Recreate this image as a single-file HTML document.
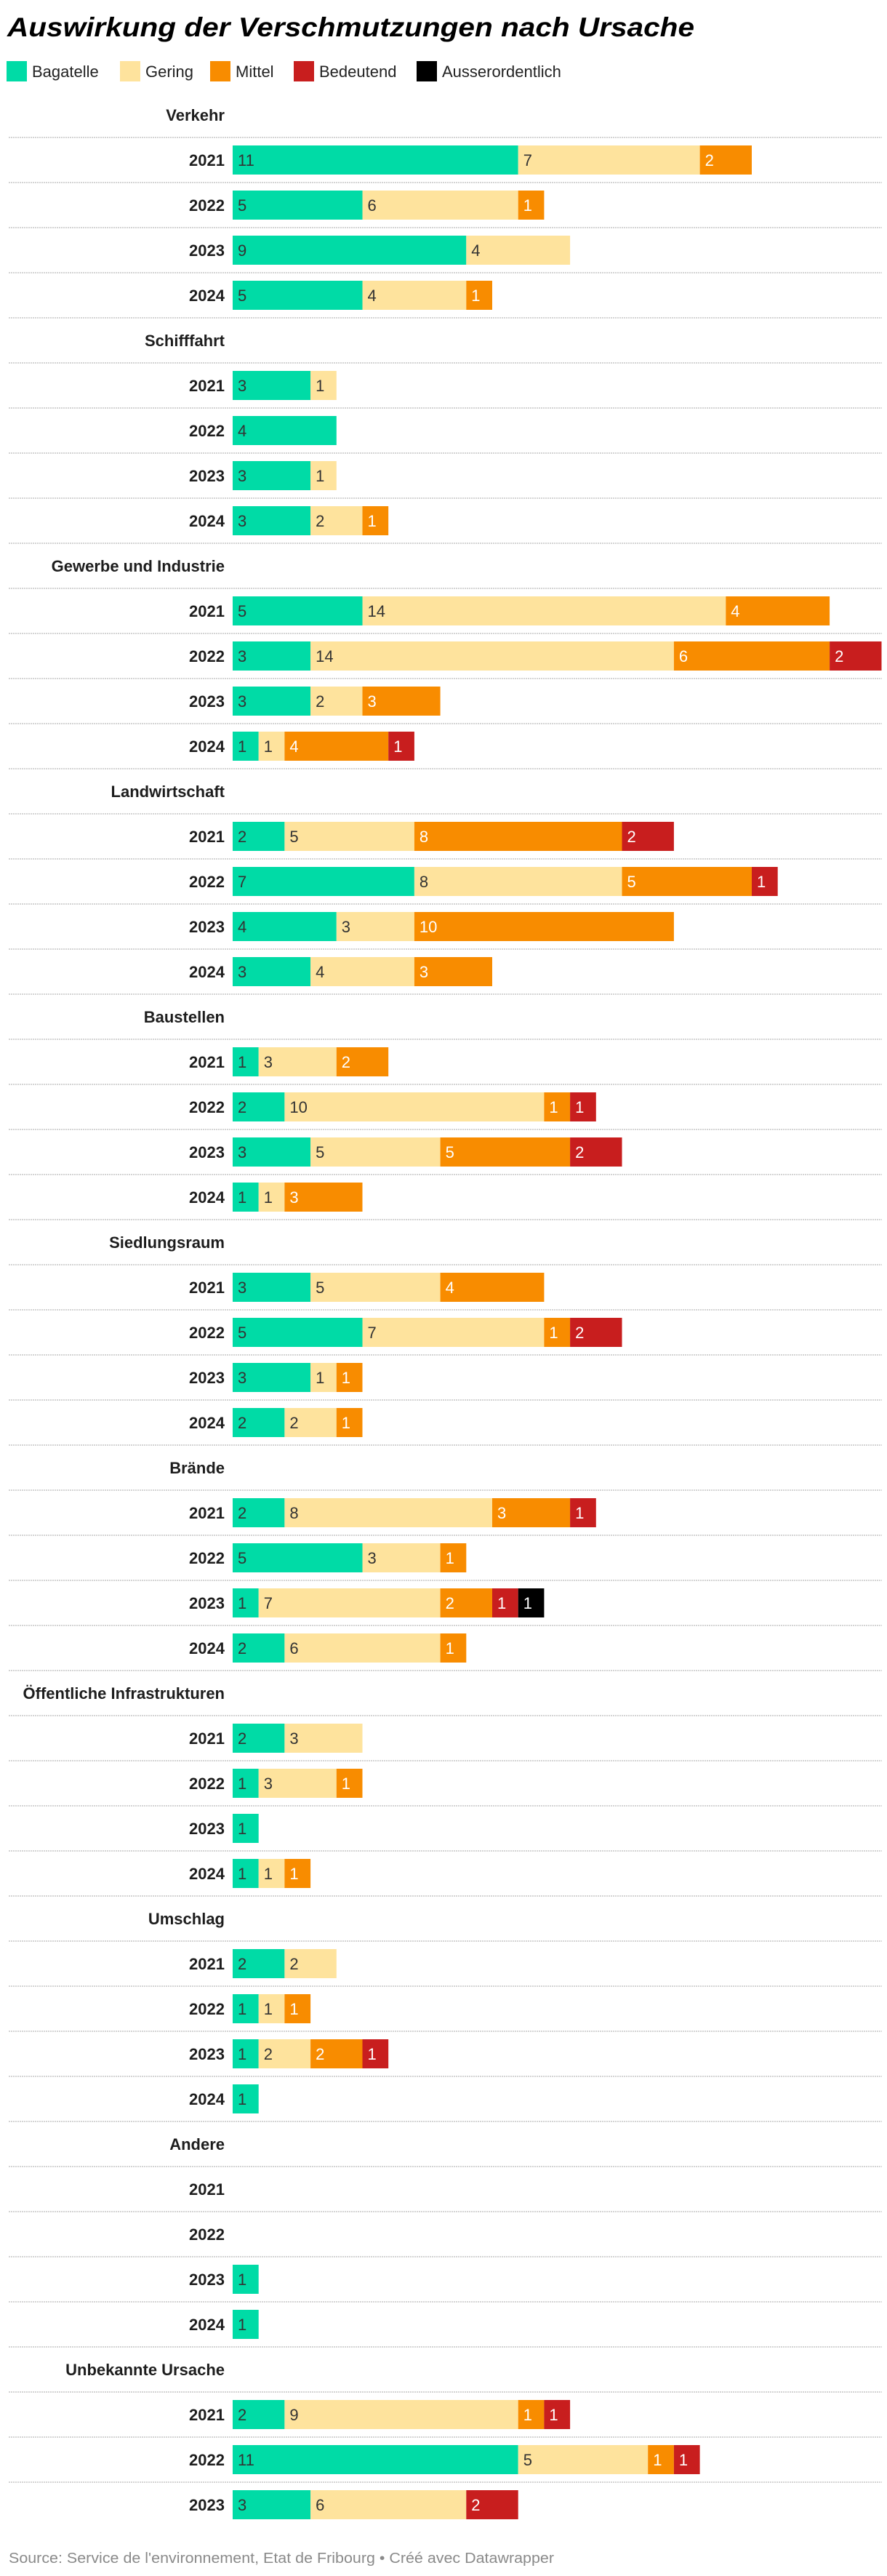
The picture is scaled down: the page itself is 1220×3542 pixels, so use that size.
<!DOCTYPE html>
<html><head><meta charset="utf-8"><style>
html,body{margin:0;padding:0;background:#fff;width:1220px;height:3542px;overflow:hidden}
svg{display:block;font-family:"Liberation Sans",sans-serif}
</style></head><body>
<svg id="chart" width="1220" height="3542">
<text x="10" y="50" font-size="37" font-weight="bold" font-style="italic" fill="#000" textLength="945" lengthAdjust="spacingAndGlyphs">Auswirkung der Verschmutzungen nach Ursache</text>
<g id="legend"></g>
<g id="plot"></g>
<text x="12" y="3524" font-size="20" fill="#8a8a8a" textLength="750" lengthAdjust="spacingAndGlyphs">Source: Service de l'environnement, Etat de Fribourg • Créé avec Datawrapper</text>
</svg>
<script>
const seriesNames = ["Bagatelle","Gering","Mittel","Bedeutend","Ausserordentlich"];
const seriesColors = ["#00dba6","#fee39d","#f88c00","#c81e1e","#000000"];
const categories = ["Verkehr","Schifffahrt","Gewerbe und Industrie","Landwirtschaft","Baustellen","Siedlungsraum","Brände","Öffentliche Infrastrukturen","Umschlag","Andere","Unbekannte Ursache"];
const years = ["2021","2022","2023","2024"];
const bagatelle = [[11,5,9,5],[3,4,3,3],[5,3,3,1],[2,7,4,3],[1,2,3,1],[3,5,3,2],[2,5,1,2],[2,1,1,1],[2,1,1,1],[0,0,1,1],[2,11,3]];
const gering = [[7,6,4,4],[1,0,1,2],[14,14,2,1],[5,8,3,4],[3,10,5,1],[5,7,1,2],[8,3,7,6],[3,3,0,1],[2,1,2,0],[0,0,0,0],[9,5,6]];
const mittel = [[2,1,0,1],[0,0,0,1],[4,6,3,4],[8,5,10,3],[2,1,5,3],[4,1,1,1],[3,1,2,1],[0,1,0,1],[0,1,2,0],[0,0,0,0],[1,1,0]];
const bedeutend = [[0,0,0,0],[0,0,0,0],[0,2,0,1],[2,1,0,0],[0,1,2,0],[0,2,0,0],[1,0,1,0],[0,0,0,0],[0,0,1,0],[0,0,0,0],[1,1,2]];
const ausserordentlich = [[0,0,0,0],[0,0,0,0],[0,0,0,0],[0,0,0,0],[0,0,0,0],[0,0,0,0],[0,0,1,0],[0,0,0,0],[0,0,0,0],[0,0,0,0],[0,0,0]];
const series = [bagatelle,gering,mittel,bedeutend,ausserordentlich];

const NS="http://www.w3.org/2000/svg";
function mk(tag,attrs,parent){const e=document.createElementNS(NS,tag);for(const k in attrs)e.setAttribute(k,attrs[k]);parent.appendChild(e);return e;}
const X0=320, UNIT=35.7;
function xScale(v){return X0+v*UNIT;}

// legend
const lg=document.getElementById('legend');
const legX=[9,165,289,404,573];
seriesNames.forEach((n,i)=>{
  const r=mk('rect',{x:legX[i],y:84,width:28,height:28,fill:seriesColors[i]},lg);
  
  
  const t=mk('text',{x:legX[i]+35,y:106,'font-size':22,fill:'#222'},lg);
  t.textContent=n;
  
  
});

const plot=document.getElementById('plot');
let y=127;
categories.forEach((cat,ci)=>{
  const h=mk('text',{x:309,y:y+39,'font-size':22,'font-weight':'bold','text-anchor':'end',fill:'#1d1d1d'},plot);
  h.textContent=cat;
  
  
  y+=62;
  const n=series[0][ci].length;
  for(let yi=0;yi<n;yi++){
    const ln=mk('line',{x1:12,x2:1213,y1:y,y2:y,stroke:'#d4d4d4','stroke-width':2,'stroke-dasharray':'2 1'},plot);
    
    
    const yl=mk('text',{x:309,y:y+39,'font-size':22,'font-weight':'bold','text-anchor':'end',fill:'#1d1d1d'},plot);
    yl.textContent=years[yi];
    
    
    let cum=0;
    series.forEach((s,si)=>{
      const v=s[ci][yi];
      if(!v)return;
      const x1=xScale(cum), x2=xScale(cum+v);
      const b=mk('rect',{x:x1,y:y+11,width:x2-x1,height:40,fill:seriesColors[si]},plot);
      
      
      const t=mk('text',{x:x1+7,y:y+39,'font-size':22,fill:si>=2?'#fff':'#333'},plot);
      t.textContent=v;
      
      
      cum+=v;
    });
    y+=62;
  }
  if(ci<categories.length-1){
    const ln=mk('line',{x1:12,x2:1213,y1:y,y2:y,stroke:'#d4d4d4','stroke-width':2,'stroke-dasharray':'2 1'},plot);
    
    
  }
});
</script>
</body></html>
